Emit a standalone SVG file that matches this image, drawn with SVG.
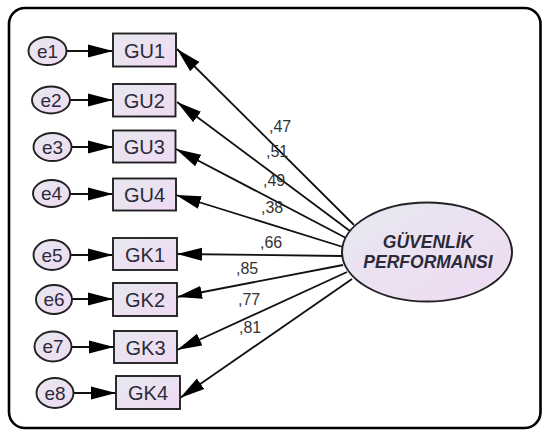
<svg xmlns="http://www.w3.org/2000/svg" width="542" height="430" viewBox="0 0 542 430">
<defs>
<linearGradient id="g" x1="0" y1="0" x2="1" y2="1">
<stop offset="0" stop-color="#e6e8f0"/>
<stop offset="1" stop-color="#f0daf2"/>
</linearGradient>
<marker id="ah" markerUnits="userSpaceOnUse" markerWidth="26" markerHeight="14" refX="25" refY="7" orient="auto">
<path d="M0,0.5 L25,7 L0,13.5 z" fill="#000"/>
</marker>
<style>
.obs rect{fill:url(#g);stroke:#222;stroke-width:1.9}
.err ellipse{fill:url(#g);stroke:#222;stroke-width:1.9}
.lat ellipse{fill:url(#g);stroke:#222;stroke-width:2}
.t{font-family:"Liberation Sans",Arial,sans-serif;fill:#2a2a3a;text-anchor:middle}
.lbl{font-family:"Liberation Sans",Arial,sans-serif;font-size:16px;fill:#333}
.cn line{stroke:#111;stroke-width:1.8;marker-end:url(#ah)}
</style>
</defs>
<rect x="9" y="8" width="531.5" height="420" rx="16" ry="16" fill="#fff" stroke="#000" stroke-width="2.6"/>

<g id="connectors" class="cn">
<line x1="67" y1="51" x2="113" y2="51"/>
<line x1="70" y1="100" x2="113" y2="100"/>
<line x1="71" y1="147" x2="113" y2="147"/>
<line x1="70" y1="194" x2="113" y2="194"/>
<line x1="71" y1="255" x2="113" y2="255"/>
<line x1="72" y1="299" x2="113" y2="299"/>
<line x1="72" y1="347" x2="114" y2="347"/>
<line x1="73" y1="393" x2="116" y2="393"/>
<line x1="354" y1="225" x2="177" y2="49"/>
<line x1="350" y1="231" x2="177" y2="102"/>
<line x1="346" y1="238" x2="176" y2="149"/>
<line x1="343" y1="247" x2="176" y2="195"/>
<line x1="342" y1="256" x2="177" y2="254"/>
<line x1="343" y1="265" x2="177" y2="297"/>
<line x1="347" y1="272" x2="177" y2="350"/>
<line x1="352" y1="279" x2="180" y2="398"/>
</g>

<g id="labels" class="lbl">
<text x="269" y="132">,47</text>
<text x="266" y="157">,51</text>
<text x="263" y="186">,49</text>
<text x="261" y="213">,38</text>
<text x="260" y="248">,66</text>
<text x="236" y="274">,85</text>
<text x="238" y="305">,77</text>
<text x="239" y="333">,81</text>
</g>

<g id="e1" class="err"><ellipse cx="47.5" cy="51" rx="19" ry="14"/><text class="t" x="47.5" y="57.5" font-size="19">e1</text></g>
<g id="e2" class="err"><ellipse cx="51" cy="100" rx="19" ry="13.5"/><text class="t" x="51" y="106.5" font-size="19">e2</text></g>
<g id="e3" class="err"><ellipse cx="52.5" cy="147" rx="19" ry="14"/><text class="t" x="52.5" y="153.5" font-size="19">e3</text></g>
<g id="e4" class="err"><ellipse cx="51.5" cy="193.5" rx="18.5" ry="13.5"/><text class="t" x="51.5" y="200" font-size="19">e4</text></g>
<g id="e5" class="err"><ellipse cx="52" cy="255" rx="18.5" ry="15"/><text class="t" x="52" y="261.5" font-size="19">e5</text></g>
<g id="e6" class="err"><ellipse cx="54" cy="299.5" rx="18" ry="14.5"/><text class="t" x="54" y="306" font-size="19">e6</text></g>
<g id="e7" class="err"><ellipse cx="53" cy="346.5" rx="18.5" ry="15"/><text class="t" x="53" y="353" font-size="19">e7</text></g>
<g id="e8" class="err"><ellipse cx="55" cy="393" rx="18.5" ry="15"/><text class="t" x="55" y="399.5" font-size="19">e8</text></g>

<g id="GU1" class="obs"><rect x="113" y="33.5" width="63" height="33"/><text class="t" x="144.5" y="57.5" font-size="20">GU1</text></g>
<g id="GU2" class="obs"><rect x="113" y="84" width="62.5" height="32.5"/><text class="t" x="144.3" y="108" font-size="20">GU2</text></g>
<g id="GU3" class="obs"><rect x="113" y="130.5" width="62.5" height="32"/><text class="t" x="144.3" y="154" font-size="20">GU3</text></g>
<g id="GU4" class="obs"><rect x="113" y="178.5" width="63" height="32"/><text class="t" x="144.5" y="202" font-size="20">GU4</text></g>
<g id="GK1" class="obs"><rect x="113" y="238" width="64" height="32"/><text class="t" x="145" y="261.5" font-size="20">GK1</text></g>
<g id="GK2" class="obs"><rect x="113" y="283" width="64" height="33"/><text class="t" x="145" y="307" font-size="20">GK2</text></g>
<g id="GK3" class="obs"><rect x="114" y="331" width="63" height="32"/><text class="t" x="145.5" y="354.5" font-size="20">GK3</text></g>
<g id="GK4" class="obs"><rect x="116" y="376" width="64" height="33"/><text class="t" x="148" y="400" font-size="20">GK4</text></g>

<g id="GUVENLIK_PERFORMANSI" class="lat">
<ellipse cx="427" cy="252" rx="85" ry="49.5"/>
<text class="t" x="428" y="248" font-size="17.5" font-weight="bold" font-style="italic" fill="#1a1a2a">GÜVENLİK</text>
<text class="t" x="428" y="267.5" font-size="17.5" font-weight="bold" font-style="italic" fill="#1a1a2a">PERFORMANSI</text>
</g>
</svg>
